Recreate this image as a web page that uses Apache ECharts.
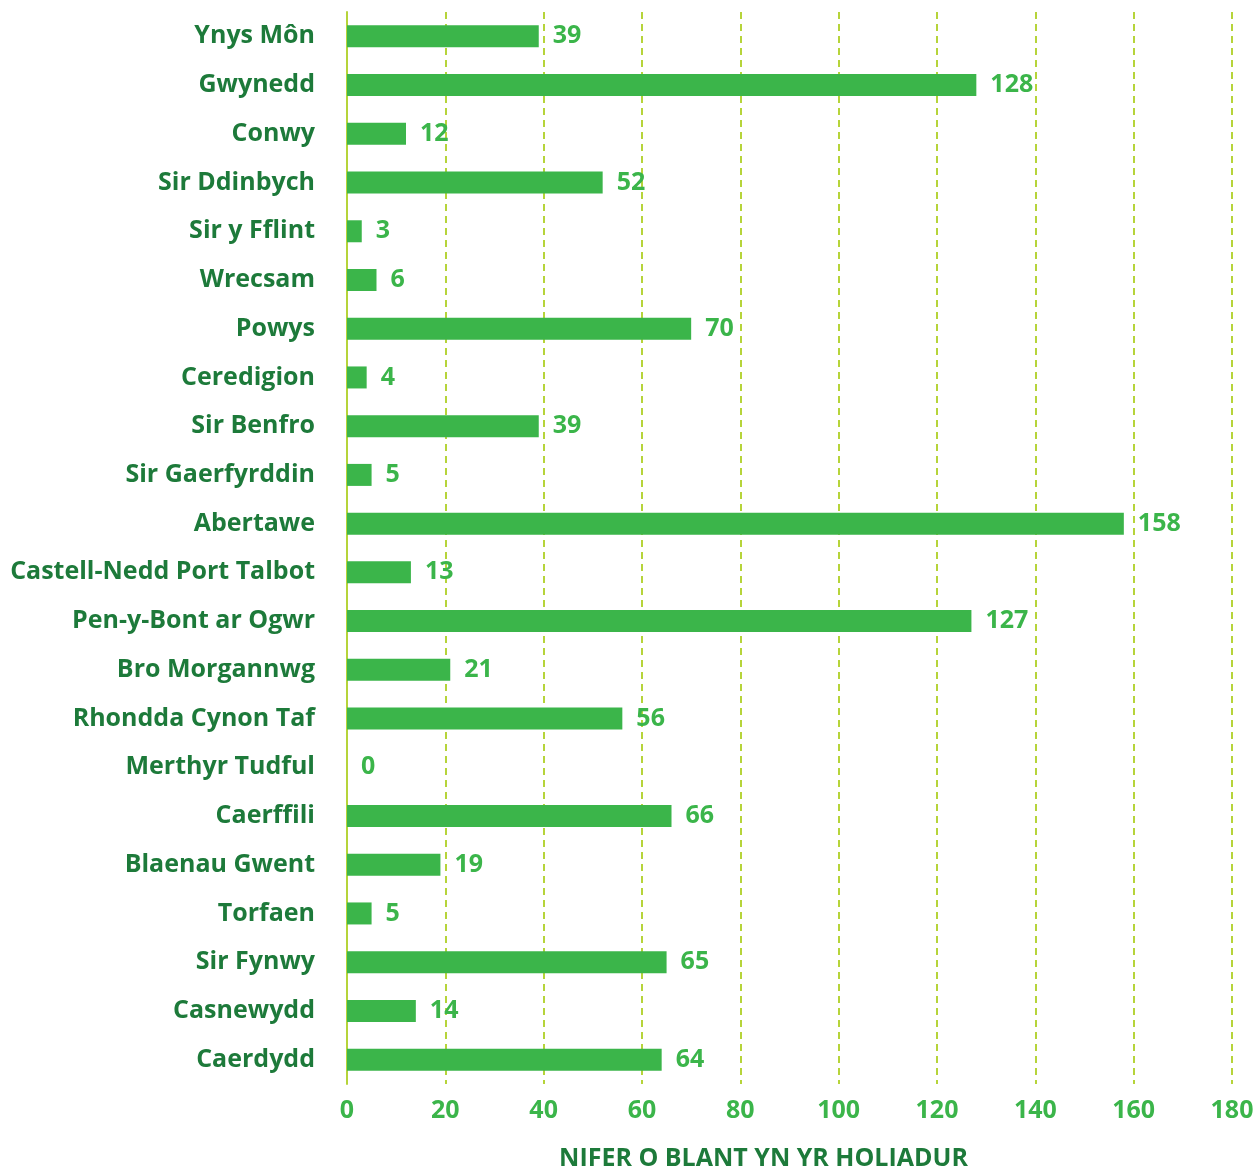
<!DOCTYPE html>
<html>
<head>
<meta charset="utf-8">
<script src="https://cdn.jsdelivr.net/npm/echarts@6/dist/echarts.min.js"></script>
<style>
  html, body { margin: 0; padding: 0; background: #fff; }
  #chart { width: 1260px; height: 1171px; }
</style>
</head>
<body>
<div id="chart"></div>
<script>
const areas = [
  'Ynys Môn', 'Gwynedd', 'Conwy', 'Sir Ddinbych', 'Sir y Fflint', 'Wrecsam',
  'Powys', 'Ceredigion', 'Sir Benfro', 'Sir Gaerfyrddin', 'Abertawe',
  'Castell-Nedd Port Talbot', 'Pen-y-Bont ar Ogwr', 'Bro Morgannwg',
  'Rhondda Cynon Taf', 'Merthyr Tudful', 'Caerffili', 'Blaenau Gwent',
  'Torfaen', 'Sir Fynwy', 'Casnewydd', 'Caerdydd'
];
const children = [39, 128, 12, 52, 3, 6, 70, 4, 39, 5, 158, 13, 127, 21, 56, 0, 66, 19, 5, 65, 14, 64];
const axisTitle = 'NIFER O BLANT YN YR HOLIADUR';

const FONT = '"Open Sans", Lato, sans-serif';
const GREEN = '#3bb54a';
const DARK = '#1d7a3a';
const LIME = '#b6d43a';

const chart = echarts.init(document.getElementById('chart'));
chart.setOption({
  animation: false,
  grid: {
    left: 347, right: 28, top: 12, bottom: 87,
    containLabel: false, outerBoundsMode: 'none'
  },
  xAxis: {
    type: 'value',
    min: 0,
    max: 180,
    interval: 20,
    axisLine: { show: false },
    axisTick: { show: false },
    axisLabel: {
      color: GREEN, fontFamily: FONT, fontWeight: 'bold', fontSize: 25, margin: 14
    },
    splitLine: { lineStyle: { color: LIME, width: 2, type: [7, 5] } },
    name: axisTitle,
    nameLocation: 'middle',
    nameGap: 62,
    nameTextStyle: {
      color: DARK, fontFamily: FONT, fontWeight: 'bold', fontSize: 25, padding: [0, 52, 0, 0]
    }
  },
  yAxis: {
    type: 'category',
    data: areas,
    inverse: true,
    axisLine: { lineStyle: { color: LIME, width: 2 } },
    axisTick: { show: false },
    axisLabel: {
      color: DARK, fontFamily: FONT, fontWeight: 'bold', fontSize: 25, margin: 32
    }
  },
  series: [{
    type: 'bar',
    data: children,
    barWidth: 22,
    itemStyle: { color: GREEN },
    label: {
      show: true,
      position: 'right',
      distance: 14,
      color: GREEN,
      fontFamily: FONT,
      fontWeight: 'bold',
      fontSize: 25
    }
  }]
});
</script>
</body>
</html>
